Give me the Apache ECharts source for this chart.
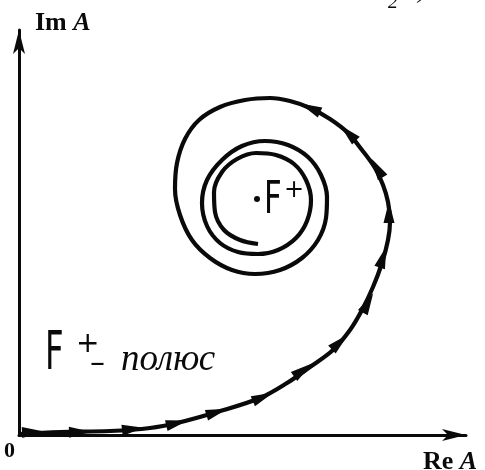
<!DOCTYPE html>
<html>
<head>
<meta charset="utf-8">
<script src="https://cdn.jsdelivr.net/npm/echarts@6/dist/echarts.min.js"></script>
<style>
  html, body { margin: 0; padding: 0; background: #fff; }
  #chart { width: 485px; height: 470px; }
</style>
</head>
<body>
<div id="chart"></div>
<script>
// Path of A in the complex plane: it leaves 0 along the real axis,
// swings up and round, and winds in towards the pole F+.
const pathRe = [0, 41, 91, 131, 158, 198, 241, 268, 291, 314, 331, 343, 354, 363, 369, 371, 369, 364, 356, 343,
  329, 311, 291, 271, 251, 226, 201, 180, 166, 158, 156, 161, 173, 191, 213, 236, 261, 283, 299, 307,
  308, 302, 289, 269, 246, 223, 203, 188, 183, 188, 201, 219, 239, 259, 277, 288, 292, 287, 275, 257,
  237, 218, 203, 195, 196, 205, 221, 239];
const pathIm = [1, 3, 4, 7, 12, 23, 37, 52, 68, 85, 105, 125, 148, 172, 195, 213, 233, 250, 267, 285,
  302, 316, 327, 334, 337, 335, 328, 315, 296, 272, 246, 220, 195, 177, 165, 161, 165, 177, 195, 217,
  238, 260, 278, 290, 294, 289, 275, 255, 232, 209, 192, 183, 181, 185, 197, 214, 235, 255, 271, 280,
  282, 276, 263, 243, 223, 205, 195, 191];

// Direction arrows placed along the outer part of the path
const arrowRe = [14, 61, 114, 158, 198, 244, 284, 321, 349, 364, 370, 358, 329, 291];
const arrowIm = [3, 3, 6, 12, 23, 38, 65, 93, 132, 178, 223, 267, 302, 327];

// The pole F+
const poleRe = 238;
const poleIm = 236;

// Axis ranges
const reMax = 447;
const imMax = 405;

const path = pathRe.map((x, i) => [x, pathIm[i]]);

// Each arrow points along the path, using the neighbouring path points
function headingAt(x, y) {
  let best = 0, bestD = Infinity;
  path.forEach((p, i) => {
    const d = (p[0] - x) ** 2 + (p[1] - y) ** 2;
    if (d < bestD) { bestD = d; best = i; }
  });
  const a = path[Math.max(0, best - 1)];
  const b = path[Math.min(path.length - 1, best + 1)];
  return Math.atan2(b[1] - a[1], b[0] - a[0]) * 180 / Math.PI - 90;
}
const arrows = arrowRe.map((x, i) => ({
  value: [x, arrowIm[i]],
  symbolRotate: headingAt(x, arrowIm[i])
}));

const ink = '#0a0a0a';
const chart = echarts.init(document.getElementById('chart'));

const axisCommon = {
  type: 'value',
  min: 0,
  axisLine: {
    show: true,
    symbol: ['none', 'arrow'],
    symbolSize: [9, 24],
    lineStyle: { color: ink, width: 3 }
  },
  axisTick: { show: false },
  axisLabel: { show: false },
  splitLine: { show: false }
};

chart.setOption({
  backgroundColor: '#ffffff',
  animation: false,
  grid: { left: 19, right: 19, top: 30, bottom: 35 },
  xAxis: Object.assign({}, axisCommon, { max: reMax }),
  yAxis: Object.assign({}, axisCommon, { max: imMax }),
  series: [
    {
      type: 'line',
      data: path,
      smooth: 0.35,
      showSymbol: false,
      lineStyle: { color: ink, width: 4.2 },
      z: 2
    },
    {
      type: 'scatter',
      data: arrows,
      symbol: 'triangle',
      symbolSize: [11, 22],
      itemStyle: { color: ink, opacity: 1 },
      z: 3
    },
    {
      type: 'scatter',
      data: [[poleRe, poleIm]],
      symbol: 'circle',
      symbolSize: 6,
      itemStyle: { color: ink, opacity: 1 },
      z: 3
    }
  ]
});

// Text placed next to the pole
const pp = chart.convertToPixel({ gridIndex: 0 }, [poleRe, poleIm]);

const serifBold = { fontFamily: 'Liberation Serif', fontWeight: 'bold', fontSize: 26, fill: ink };
const serifBoldItalic = Object.assign({}, serifBold, { fontStyle: 'italic' });

chart.setOption({
  graphic: [
    // axis names
    {
      type: 'text', x: 35, y: 23,
      style: { text: '{r|Im }{i|A}', verticalAlign: 'middle', rich: { r: serifBold, i: serifBoldItalic } }
    },
    {
      type: 'text', x: 423, y: 462,
      style: { text: '{r|Re }{i|A}', verticalAlign: 'middle', rich: { r: serifBold, i: serifBoldItalic } }
    },
    {
      type: 'text', x: 4, y: 451,
      style: { text: '0', fontFamily: 'Liberation Serif', fontWeight: 'bold', fontSize: 22, fill: ink, verticalAlign: 'middle' }
    },
    // pole label
    {
      type: 'text', x: pp[0] + 7, y: pp[1] + 3, scaleX: 0.7,
      style: { text: 'F', fontFamily: 'DejaVu Sans', fontSize: 44, fill: ink, verticalAlign: 'middle' }
    },
    {
      type: 'text', x: pp[0] + 27, y: pp[1] - 8,
      style: { text: '+', fontFamily: 'DejaVu Sans', fontSize: 24, fill: ink, verticalAlign: 'middle' }
    },
    // caption: F+ - pole
    {
      type: 'text', x: 45, y: 355, scaleX: 0.6,
      style: { text: 'F', fontFamily: 'DejaVu Sans', fontSize: 54, fill: ink, verticalAlign: 'middle' }
    },
    {
      type: 'text', x: 76, y: 345,
      style: { text: '+', fontFamily: 'DejaVu Sans', fontSize: 28, fill: ink, verticalAlign: 'middle' }
    },
    {
      type: 'text', x: 90, y: 364,
      style: { text: '–', fontFamily: 'DejaVu Sans', fontSize: 30, fill: ink, verticalAlign: 'middle' }
    },
    {
      type: 'text', x: 121, y: 360,
      style: { text: 'полюс', fontFamily: 'Liberation Serif', fontStyle: 'italic', fontSize: 37, fill: ink, verticalAlign: 'middle' }
    },
    // bottom edge of the heading line above the figure
    {
      type: 'text', x: 296, y: -10,
      style: { text: 'e', fontFamily: 'Liberation Serif', fontStyle: 'italic', fontSize: 24, fill: ink, verticalAlign: 'middle' }
    },
    {
      type: 'text', x: 388, y: 3,
      style: { text: '2', fontFamily: 'Liberation Serif', fontStyle: 'italic', fontSize: 20, fill: ink, verticalAlign: 'middle' }
    },
    {
      type: 'text', x: 418, y: -8,
      style: { text: ')', fontFamily: 'Liberation Serif', fontStyle: 'italic', fontSize: 24, fill: ink, verticalAlign: 'middle' }
    }
  ]
});
</script>
</body>
</html>
